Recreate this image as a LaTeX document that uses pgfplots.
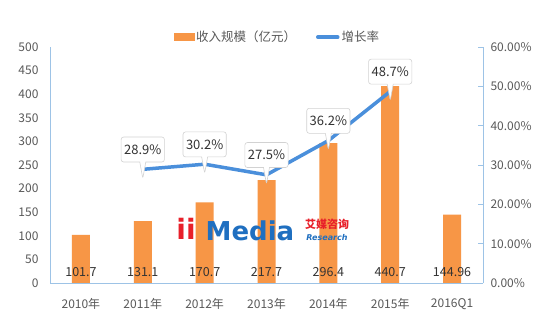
\documentclass[border=0pt]{standalone}
\usepackage{fontspec}
\setmainfont{Noto Sans CJK SC}
\newfontfamily\logofont{DejaVu Sans}
\usepackage{pgfplots}
\usepackage{pgfplotstable}
\pgfplotsset{compat=1.18}
\usetikzlibrary{shapes.callouts}
\definecolor{barorange}{HTML}{F79646}
\definecolor{lineblue}{HTML}{4A8FDB}
\definecolor{axblue}{HTML}{9DC3E6}
\definecolor{txt}{HTML}{595959}
\definecolor{logored}{HTML}{E8202A}
\definecolor{logoblue}{HTML}{1F6FC0}

\pgfplotstableread{
x y ly label
0 101.7 23 101.7
1 131.1 23 131.1
2 170.7 23 170.7
3 217.7 23 217.7
4 296.4 23 296.4
5 417 23 440.7
6 144.96 23 144.96
}\bars

\pgfplotstableread{
x y label
1 28.9 28.9
2 30.2 30.2
3 27.5 27.5
4 36.2 36.2
5 48.7 48.7
}\growth

\begin{document}
\begin{tikzpicture}
\fill[white] (0,0) rectangle (548pt,318pt);
\begin{axis}[
  at={(50pt,35pt)}, anchor=south west,
  scale only axis, width=433pt, height=236pt,
  xmin=-0.5, xmax=6.5, ymin=0, ymax=500,
  ytick={0,50,...,500},
  xtick={0,...,6},
  xticklabels={2010年,2011年,2012年,2013年,2014年,2015年,2016Q1},
  axis y line*=left, axis x line*=bottom,
  axis line style={axblue, line width=0.8pt},
  major tick length=0pt,
  /pgf/number format/assume math mode=true,
  ticklabel style={font=\fontsize{12}{14}\selectfont, text=txt},
  yticklabel style={xshift=-8pt},
  xticklabel style={yshift=-12pt},
]
\addplot[ybar, bar width=18pt, fill=barorange, draw=none] table[x=x,y=y]{\bars};
\addplot[draw=none, mark=none, nodes near coords, point meta=explicit symbolic,
  nodes near coords style={anchor=center, font=\fontsize{12.5}{15}\selectfont, text=black!80}]
  table[x=x, y=ly, meta=label]{\bars};
\end{axis}
\begin{axis}[
  at={(50pt,35pt)}, anchor=south west,
  scale only axis, width=433pt, height=236pt,
  xmin=-0.5, xmax=6.5, ymin=0, ymax=60,
  axis y line*=right, axis x line=none,
  axis line style={axblue, line width=0.8pt},
  ytick={0,10,...,60},
  yticklabel={\pgfmathprintnumber[fixed,fixed zerofill,precision=2]{\tick}\%},
  tick style={axblue, line width=0.8pt},
  major tick length=5pt,
  /pgf/number format/assume math mode=true,
  ticklabel style={font=\fontsize{12}{14}\selectfont, text=txt},
  yticklabel style={xshift=4pt},
  legend columns=2,
  legend style={draw=none, fill=none, at={(0.525,1.042)}, anchor=center,
    font=\fontsize{12.5}{15}\selectfont, text=txt,
    /tikz/every even column/.append style={column sep=18pt}},
]
\addlegendimage{legend image code/.code={\fill[barorange] (0pt,-3.5pt) rectangle (20pt,3.5pt);}}
\addlegendentry{收入规模（亿元）}
\addlegendimage{legend image code/.code={\draw[lineblue, line width=3.5pt, line cap=round] (0pt,0pt) -- (20pt,0pt);}}
\addlegendentry{增长率}
\addplot[forget plot, lineblue, line width=3.5pt, mark=none,
  nodes near coords={\pgfplotspointmeta\%}, point meta=explicit symbolic,
  nodes near coords style={shape=rectangle callout, draw=gray!35, fill=white,
    line width=0.6pt, rounded corners=2.5pt, anchor=south, yshift=7pt, inner xsep=3pt,
    minimum height=25pt, callout relative pointer={(0pt,-16.5pt)},
    callout pointer width=6pt,
    font=\fontsize{13}{15}\selectfont, text=black!80}]
  table[x=x,y=y,meta=label]{\growth};
\end{axis}
% watermark logo
\node[text=logored, font=\logofont\bfseries\fontsize{28}{30}\selectfont] at (186pt,89pt) {ii};
\node[text=logoblue, font=\logofont\bfseries\fontsize{26}{28}\selectfont] at (250pt,87pt) {Media};
\node[text=logored, font=\bfseries\fontsize{11}{12}\selectfont, inner sep=0pt] at (327pt,94pt) {艾媒咨询};
\node[text=logoblue, font=\logofont\bfseries\itshape\fontsize{8}{9}\selectfont, inner sep=0pt] at (327pt,80pt) {Research};
\end{tikzpicture}
\end{document}
